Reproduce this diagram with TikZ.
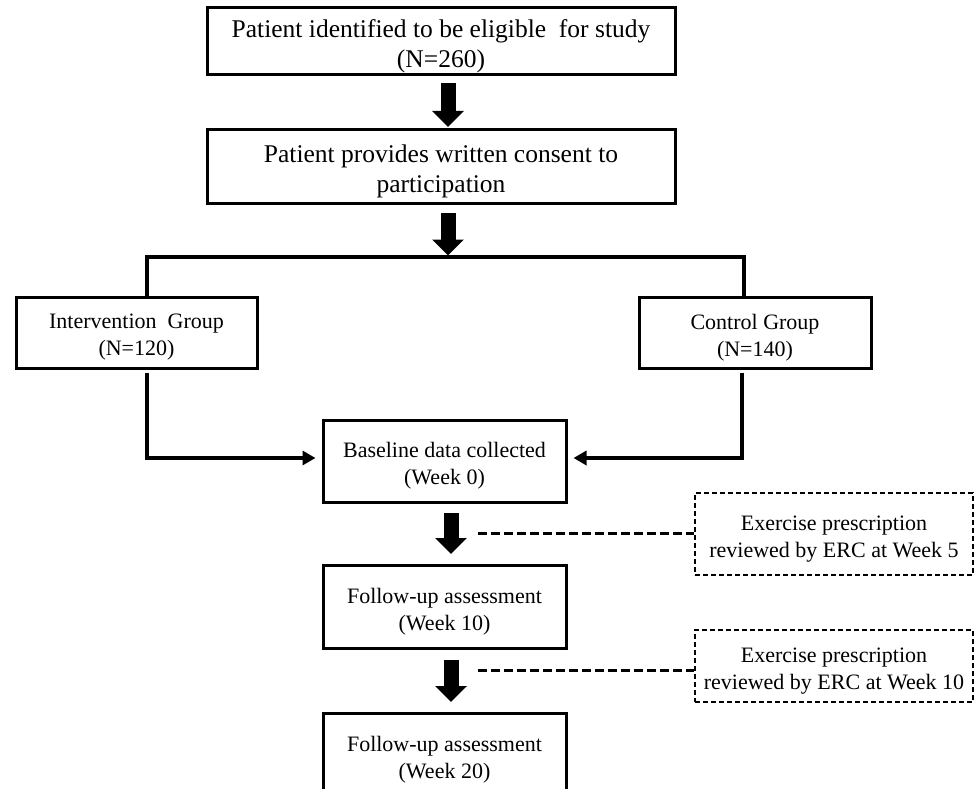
\documentclass[tikz,border=0pt]{standalone}
\usepackage{fontspec}
\setmainfont{Liberation Serif}
\usetikzlibrary{arrows.meta}
\begin{document}
\begin{tikzpicture}[x=1pt,y=-1pt,
  bigtext/.style={font=\fontsize{25.5}{30}\selectfont},
  smalltext/.style={font=\fontsize{22}{27}\selectfont},
  solidbox/.style={draw, line width=3pt, inner sep=0pt},
  dashbox/.style={draw, line width=1.5pt, dash pattern=on 5pt off 3pt, inner sep=0pt},
  boxtext/.style={align=center, inner sep=0pt, yshift=-5pt},
  blockarrow/.style={line width=15pt, -{Triangle[length=16pt,width=31pt]}},
  conn/.style={line width=3.5pt, line join=miter},
  connarrow/.style={conn, -{Triangle[length=13pt,width=14pt]}},
  dashconn/.style={line width=3pt, dash pattern=on 9pt off 4pt}
]
\clip (0,0) rectangle (974,789);
\fill[white] (0,0) rectangle (974,789);

\node[solidbox, minimum width=468pt, minimum height=67pt,
  label={[boxtext, bigtext]center:Patient identified to be eligible\ \ for study\\(N=260)}] (b1) at (441,41.5) {};
\node[solidbox, minimum width=468pt, minimum height=73pt,
  label={[boxtext, bigtext]center:Patient provides written consent to\\participation}] (b2) at (441,166.5) {};
\node[solidbox, minimum width=241pt, minimum height=71pt,
  label={[boxtext, smalltext]center:Intervention\ \ Group\\(N=120)}] (int) at (136.5,332.5) {};
\node[solidbox, minimum width=232pt, minimum height=71pt,
  label={[boxtext, smalltext]center:Control Group\\(N=140)}] (ctl) at (755,332.5) {};
\node[solidbox, minimum width=243pt, minimum height=82pt,
  label={[boxtext, smalltext]center:Baseline data collected\\(Week 0)}] (base) at (444.5,461) {};
\node[solidbox, minimum width=243pt, minimum height=83pt,
  label={[boxtext, smalltext]center:Follow-up assessment\\(Week 10)}] (fu1) at (444.5,606.5) {};
\node[solidbox, minimum width=243pt, minimum height=83pt,
  label={[boxtext, smalltext]center:Follow-up assessment\\(Week 20)}] (fu2) at (444.5,754.5) {};
\node[dashbox, minimum width=278pt, minimum height=82pt,
  label={[boxtext, smalltext]center:Exercise prescription\\reviewed by ERC at Week 5}] (db1) at (834,534) {};
\node[dashbox, minimum width=278pt, minimum height=72pt,
  label={[boxtext, smalltext]center:Exercise prescription\\reviewed by ERC at Week 10}] (db2) at (834,666) {};

% block arrows
\draw[blockarrow, shorten <=6.5pt, shorten >=1.5pt] ([xshift=7pt]b1.south) -- ([xshift=7pt]b2.north);
\coordinate (bm) at (448,257);
\draw[blockarrow, shorten <=8.5pt, shorten >=1.5pt] ([xshift=7pt]b2.south) -- (bm);
\draw[blockarrow, shorten <=9.5pt, shorten >=9.5pt] ([xshift=6.5pt]base.south) -- ([xshift=6.5pt]fu1.north);
\draw[blockarrow, shorten <=10.5pt, shorten >=9.5pt] ([xshift=6.5pt]fu1.south) -- ([xshift=6.5pt]fu2.north);

% branch
\coordinate (bl) at (147,257);
\coordinate (br) at (744,257);
\draw[conn] (int.north -| bl) -- (bl) -- (br) -- (ctl.north -| br);

% merge into baseline
\coordinate (ll) at (147,458);
\coordinate (rl) at (742,458);
\draw[connarrow, shorten <=3pt, shorten >=6pt] (int.south -| ll) |- ([yshift=3pt]base.west);
\draw[connarrow, shorten <=3pt, shorten >=6pt] (ctl.south -| rl) |- ([yshift=3pt]base.east);

% dashed links
\coordinate (d1) at (478,533);
\coordinate (d2) at (478,670);
\draw[dashconn] (d1) -- (d1 -| db1.west);
\draw[dashconn] (d2) -- (d2 -| db2.west);
\end{tikzpicture}
\end{document}
